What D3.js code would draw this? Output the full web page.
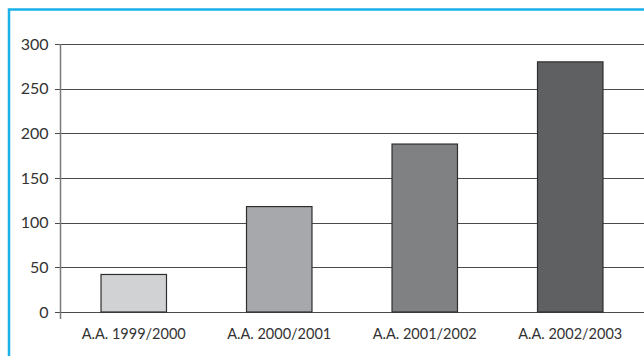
<!DOCTYPE html>
<html>
<head>
<meta charset="utf-8">
<script src="https://cdn.jsdelivr.net/npm/d3@7"></script>
<style>
  html, body { margin: 0; padding: 0; background: #fff; }
  svg { display: block; }
  text { font-family: "Lato", "Open Sans", sans-serif; fill: #333; }
</style>
</head>
<body>
<svg id="chart" width="644" height="356"></svg>
<script>
// Academic years and values per year
const categories = ["A.A. 1999/2000", "A.A. 2000/2001", "A.A. 2001/2002", "A.A. 2002/2003"];
const values = [42, 118, 188, 280];
const barColors = ["#d1d2d4", "#a7a8ab", "#808183", "#5f6062"];
const yTicks = [0, 50, 100, 150, 200, 250, 300];

const svg = d3.select("#chart");

// frame: blue top and left edges
svg.append("path")
  .attr("d", "M9,356 V9.5 H644")
  .attr("fill", "none")
  .attr("stroke", "#1ab0e8")
  .attr("stroke-width", 2.5);

const x = d3.scaleBand()
  .domain(categories)
  .range([61, 643])
  .paddingInner(0.55)
  .paddingOuter(0.275);

const y = d3.scaleLinear()
  .domain([0, 300])
  .range([312, 44]);

// horizontal gridlines
svg.append("g")
  .selectAll("line")
  .data(yTicks)
  .join("line")
  .attr("x1", 55)
  .attr("x2", 644)
  .attr("y1", d => Math.round(y(d)) + 0.5)
  .attr("y2", d => Math.round(y(d)) + 0.5)
  .attr("stroke", "#4a4a4a")
  .attr("stroke-width", 1.2);

// vertical axis line
svg.append("line")
  .attr("x1", 60.5).attr("x2", 60.5)
  .attr("y1", y(300)).attr("y2", y(0) + 7)
  .attr("stroke", "#7a7a7a")
  .attr("stroke-width", 1.5);

// y tick labels
svg.append("g")
  .selectAll("text")
  .data(yTicks)
  .join("text")
  .attr("x", 48.5)
  .attr("y", d => y(d))
  .attr("dy", "0.36em")
  .attr("text-anchor", "end")
  .attr("font-size", 16)
  .text(d => d);

// bars
svg.append("g")
  .selectAll("rect")
  .data(values)
  .join("rect")
  .attr("x", (d, i) => x(categories[i]))
  .attr("width", x.bandwidth())
  .attr("y", d => y(d))
  .attr("height", d => y(0) - y(d))
  .attr("fill", (d, i) => barColors[i])
  .attr("stroke", "#2e2e2e")
  .attr("stroke-width", 1.2);

// category labels
svg.append("g")
  .selectAll("text")
  .data(categories)
  .join("text")
  .attr("x", d => x(d) + x.bandwidth() / 2)
  .attr("y", 339)
  .attr("text-anchor", "middle")
  .attr("font-size", 14.5)
  .text(d => d);
</script>
</body>
</html>
